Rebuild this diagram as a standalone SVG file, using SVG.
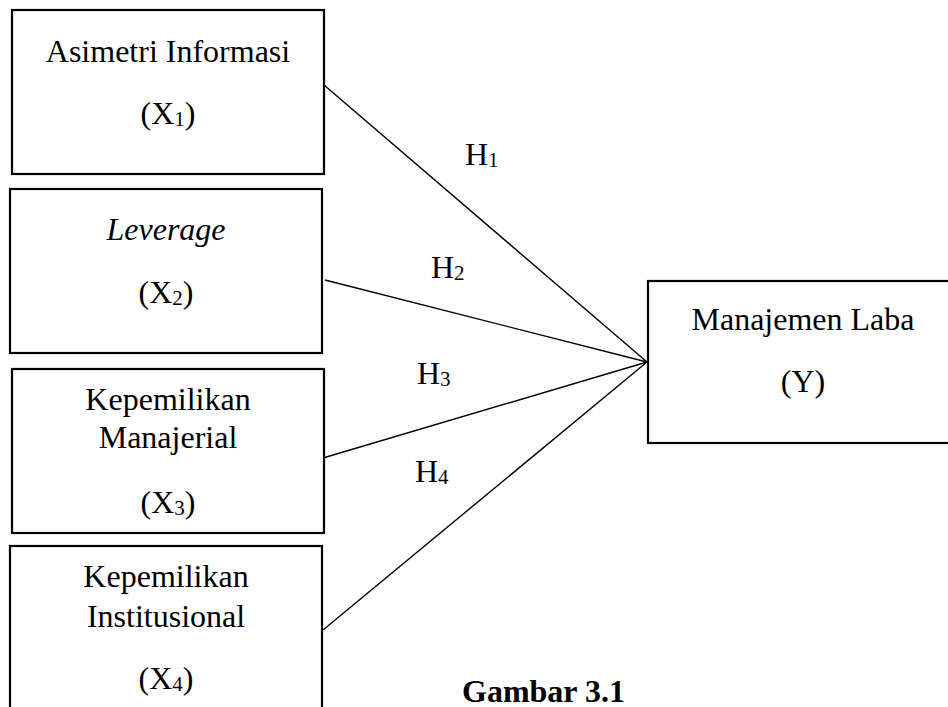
<svg xmlns="http://www.w3.org/2000/svg" width="948" height="707" viewBox="0 0 948 707">
<style>
.box{fill:#fff;stroke:#000;stroke-width:2.2}
.t{font-family:"Liberation Serif","Times New Roman",serif;font-size:32px;fill:#000;text-anchor:middle}
.h{font-family:"Liberation Serif","Times New Roman",serif;font-size:32px;fill:#000}
.sub{font-size:21px}
.ln{stroke:#000;stroke-width:1.4;fill:none}
</style>
<rect width="948" height="707" fill="#fff"/>
<g id="connectors">
<line class="ln" x1="324" y1="85" x2="647" y2="362"/>
<line class="ln" x1="325" y1="280" x2="647" y2="362"/>
<line class="ln" x1="323" y1="458" x2="647" y2="362"/>
<line class="ln" x1="323" y1="630" x2="647" y2="362"/>
</g>
<g id="x1">
<rect class="box" x="12" y="10" width="312" height="164"/>
<text class="t" x="168" y="62">Asimetri Informasi</text>
<text class="t" x="168" y="124">(X<tspan class="sub" dy="2">1</tspan><tspan dy="-2">)</tspan></text>
</g>
<g id="x2">
<rect class="box" x="10" y="189" width="312" height="164"/>
<text class="t" x="166" y="240" font-style="italic">Leverage</text>
<text class="t" x="166" y="303">(X<tspan class="sub" dy="2">2</tspan><tspan dy="-2">)</tspan></text>
</g>
<g id="x3">
<rect class="box" x="12" y="369" width="312" height="164"/>
<text class="t" x="168" y="410">Kepemilikan</text>
<text class="t" x="168" y="448">Manajerial</text>
<text class="t" x="168" y="513">(X<tspan class="sub" dy="2">3</tspan><tspan dy="-2">)</tspan></text>
</g>
<g id="x4">
<rect class="box" x="10" y="546" width="312" height="170"/>
<text class="t" x="166" y="587">Kepemilikan</text>
<text class="t" x="166" y="627">Institusional</text>
<text class="t" x="166" y="689">(X<tspan class="sub" dy="2">4</tspan><tspan dy="-2">)</tspan></text>
</g>
<g id="y">
<rect class="box" x="648" y="281" width="312" height="162"/>
<text class="t" x="803" y="330">Manajemen Laba</text>
<text class="t" x="803" y="392">(Y)</text>
</g>
<g id="labels">
<text class="h" x="465" y="165">H<tspan class="sub" dy="2">1</tspan></text>
<text class="h" x="431" y="278">H<tspan class="sub" dy="2">2</tspan></text>
<text class="h" x="417" y="384">H<tspan class="sub" dy="2">3</tspan></text>
<text class="h" x="415" y="482">H<tspan class="sub" dy="2">4</tspan></text>
<text class="h" x="462" y="702" font-weight="bold">Gambar 3.1</text>
</g>
</svg>
